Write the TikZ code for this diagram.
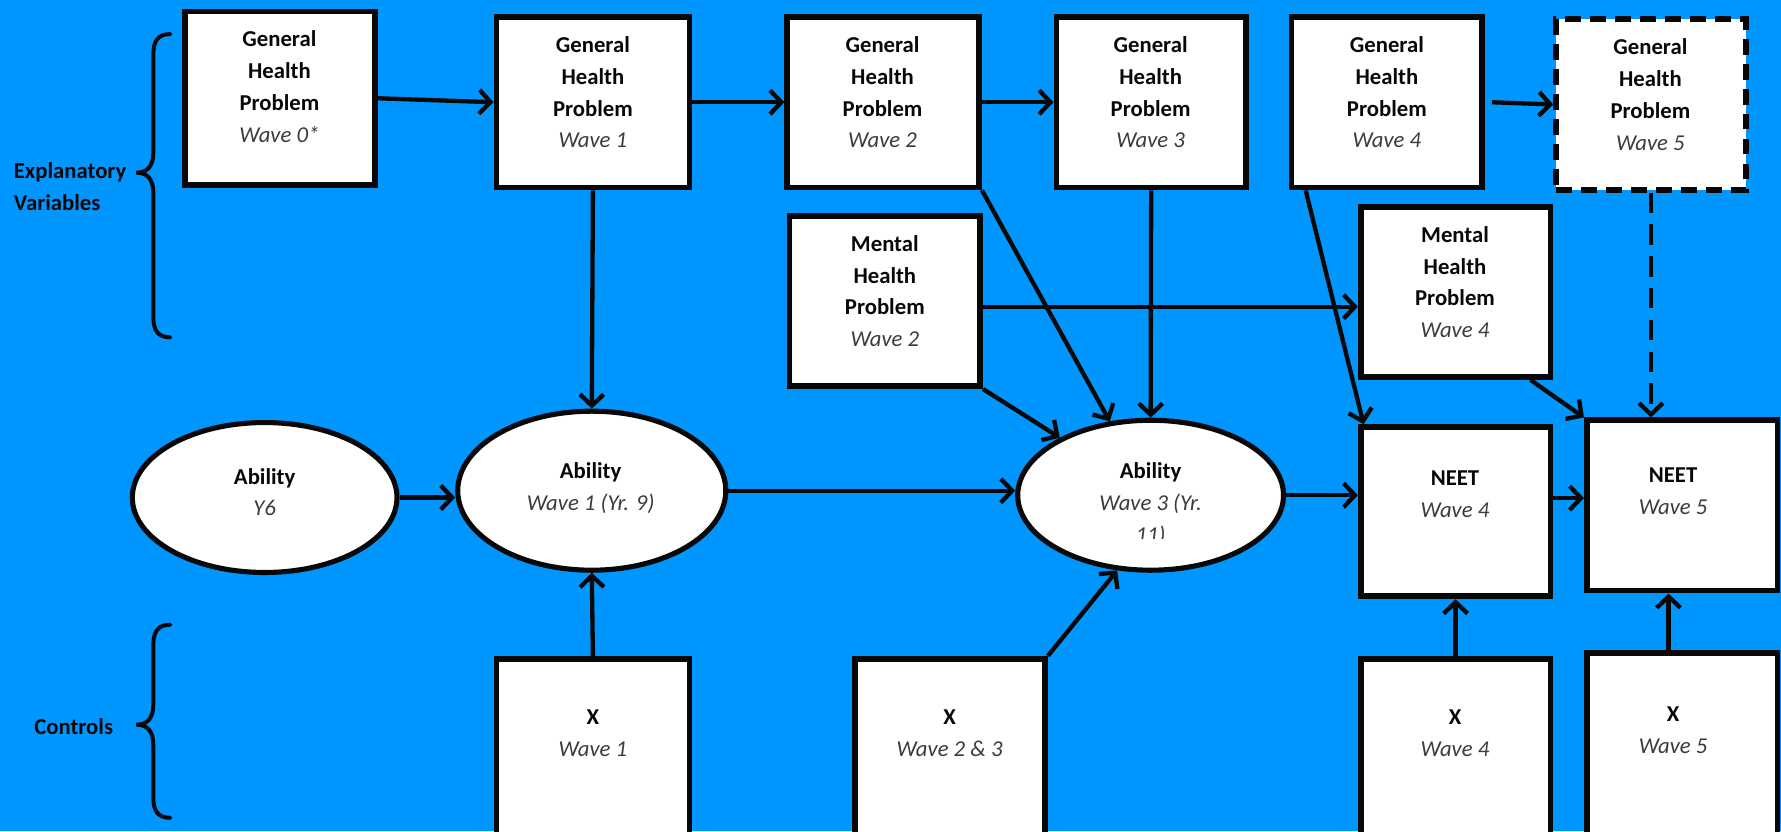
\documentclass[tikz,border=0pt]{standalone}
\usepackage{fontspec}
\setmainfont{Carlito}
\usetikzlibrary{arrows.meta,shapes.geometric}
\definecolor{bgblue}{RGB}{0,150,255}
\definecolor{ink}{RGB}{8,8,8}
\definecolor{wavegrey}{RGB}{60,60,60}
\newcommand{\rbox}[6][]{\node[boxst,#1,minimum width={#4-#2},minimum height={#5-#3}] (#6) at ({(#2+#4)/2},{(#3+#5)/2}) {};}
\newcommand{\wv}[1]{{\mdseries\itshape\color{wavegrey}#1}}
\begin{document}
\begin{tikzpicture}[x=1pt,y=-1pt,
 boxst/.style={draw=ink,fill=white,line width=5pt,rectangle,inner sep=0pt},
 ellst/.style={draw=ink,fill=white,line width=4.5pt,ellipse,inner sep=0pt},
 txt/.style={font=\fontsize{20}{28}\selectfont\bfseries,text=ink,align=center,inner sep=0pt,anchor=north},
 lbl/.style={font=\fontsize{20}{28}\selectfont\bfseries,text=ink,align=left,inner sep=0pt,anchor=west},
 conn/.style={draw=ink,line width=3.8pt,-{Straight Barb[length=10pt,width=21pt,line width=3.8pt]}},
 brace/.style={draw=ink,line width=3.5pt,line cap=round}]
\fill[bgblue] (0,0) rectangle (1568,732);
\useasboundingbox (0,0) rectangle (1568,732);

% explanatory boxes
\rbox{163}{10}{330}{163}{gh0}
\rbox{437}{15}{607}{165}{gh1}
\rbox{693}{15}{862}{165}{gh2}
\rbox{930}{15}{1097}{165}{gh3}
\rbox{1137}{15}{1305}{165}{gh4}
\rbox[dash pattern=on 14pt off 8pt]{1370}{17}{1537}{167}{gh5}
\rbox{695}{190}{863}{340}{mh2}
\rbox{1198}{182}{1365}{332}{mh4}
% outcome boxes
\rbox{1198}{376}{1365}{525}{neet4}
\rbox{1397}{370}{1565}{520}{neet5}
% controls
\rbox{437}{580}{607}{750}{xw1}
\rbox{753}{580}{920}{750}{xw23}
\rbox{1198}{580}{1365}{750}{xw4}
\rbox{1397}{575}{1565}{750}{xw5}
% ellipses
\node[ellst,minimum width=233,minimum height=132] (aby6) at (233,438) {};
\node[ellst,minimum width=236,minimum height=140] (abw1) at (521,432) {};
\node[ellst,minimum width=234,minimum height=132] (abw3) at (1013,436) {};

% texts
\node[txt] (gh0t) at (246,27) {General\\Health\\Problem\\\wv{Wave 0*}};
\node[txt] (gh1t) at (522,32) {General\\Health\\Problem\\\wv{Wave 1}};
\node[txt] (gh2t) at (777,32) {General\\Health\\Problem\\\wv{Wave 2}};
\node[txt] (gh3t) at (1013,32) {General\\Health\\Problem\\\wv{Wave 3}};
\node[txt] (gh4t) at (1221,32) {General\\Health\\Problem\\\wv{Wave 4}};
\node[txt] (gh5t) at (1453,34) {General\\Health\\Problem\\\wv{Wave 5}};
\node[txt] (mh2t) at (779,207) {Mental\\Health\\Problem\\\wv{Wave 2}};
\node[txt] (mh4t) at (1281,199) {Mental\\Health\\Problem\\\wv{Wave 4}};
\node[txt] (neet4t) at (1281,414) {NEET\\\wv{Wave 4}};
\node[txt] (neet5t) at (1473,412) {NEET\\\wv{Wave 5}};
\node[txt] (xw1t) at (522,625) {X\\\wv{Wave 1}};
\node[txt] (xw23t) at (836,625) {X\\\wv{Wave 2 \& 3}};
\node[txt] (xw4t) at (1281,625) {X\\\wv{Wave 4}};
\node[txt] (xw5t) at (1473,622) {X\\\wv{Wave 5}};
\node[txt] (aby6t) at (233,412) {Ability\\\wv{Y6}};
\node[txt] (abw1t) at (520,407) {Ability\\\wv{Wave 1 (Yr. 9)}};
\begin{scope}
\clip (900,380) rectangle (1130,474);
\node[txt] (abw3t) at (1013,407) {Ability\\\wv{Wave 3 (Yr.}\\\wv{11)}};
\end{scope}

% braces and labels
\draw[brace] (150,30) .. controls (139,30) and (135,36) .. (135,48) -- (135,134)
  .. controls (135,146) and (130,152) .. (120,152)
  .. controls (130,152) and (135,158) .. (135,170) -- (135,279)
  .. controls (135,291) and (139,297) .. (150,297);
\draw[brace] (150,550) .. controls (139,550) and (135,556) .. (135,568) -- (135,620)
  .. controls (135,632) and (130,638) .. (120,638)
  .. controls (130,638) and (135,644) .. (135,656) -- (135,702)
  .. controls (135,714) and (139,720) .. (150,720);
\node[lbl] (expl) at (12,164) {Explanatory\\Variables};
\node[lbl] (ctrl) at (30,640) {Controls};

% connectors
\draw[conn] (gh0.east) -- (gh1.west);
\draw[conn] (gh1.east) -- (gh2.west);
\draw[conn] (gh2.east) -- (gh3.west);
\draw[conn] ([xshift=6pt]gh4.east) -- (gh5.west);
\draw[conn] (gh1.south) -- (abw1.north);
\draw[conn] (gh2.south east) -- (abw3);
\draw[conn] (gh3.south) -- (abw3.north);
\draw[conn] ([yshift=-5pt]mh2.east) -- ([yshift=-5pt]mh2.east -| mh4.west);
\draw[conn] (mh2.south east) -- (abw3);
\draw[conn] ([xshift=15pt]gh4.south west) -- ([xshift=5pt]neet4.north west);
\draw[conn] ([xshift=-20pt]mh4.south east) -- (neet5.north west);
\draw[conn,dash pattern=on 18pt off 10pt] (gh5.south) -- (gh5.south |- neet5.north);
\draw[conn] (aby6.east) -- (aby6.east -| abw1.west);
\draw[conn] (abw1.east) -- (abw1.east -| abw3.west);
\draw[conn] (abw3.east) -- (abw3.east -| neet4.west);
\draw[conn] ([yshift=12pt]neet4.east) -- ([yshift=12pt]neet4.east -| neet5.west);
\draw[conn] (xw1.north) -- (abw1.south);
\draw[conn] (xw23.north east) -- (abw3.246);
\draw[conn] (xw4.north) -- (neet4.south);
\draw[conn] ([xshift=-12pt]xw5.north) -- ([xshift=-12pt]neet5.south);
\end{tikzpicture}
\end{document}
